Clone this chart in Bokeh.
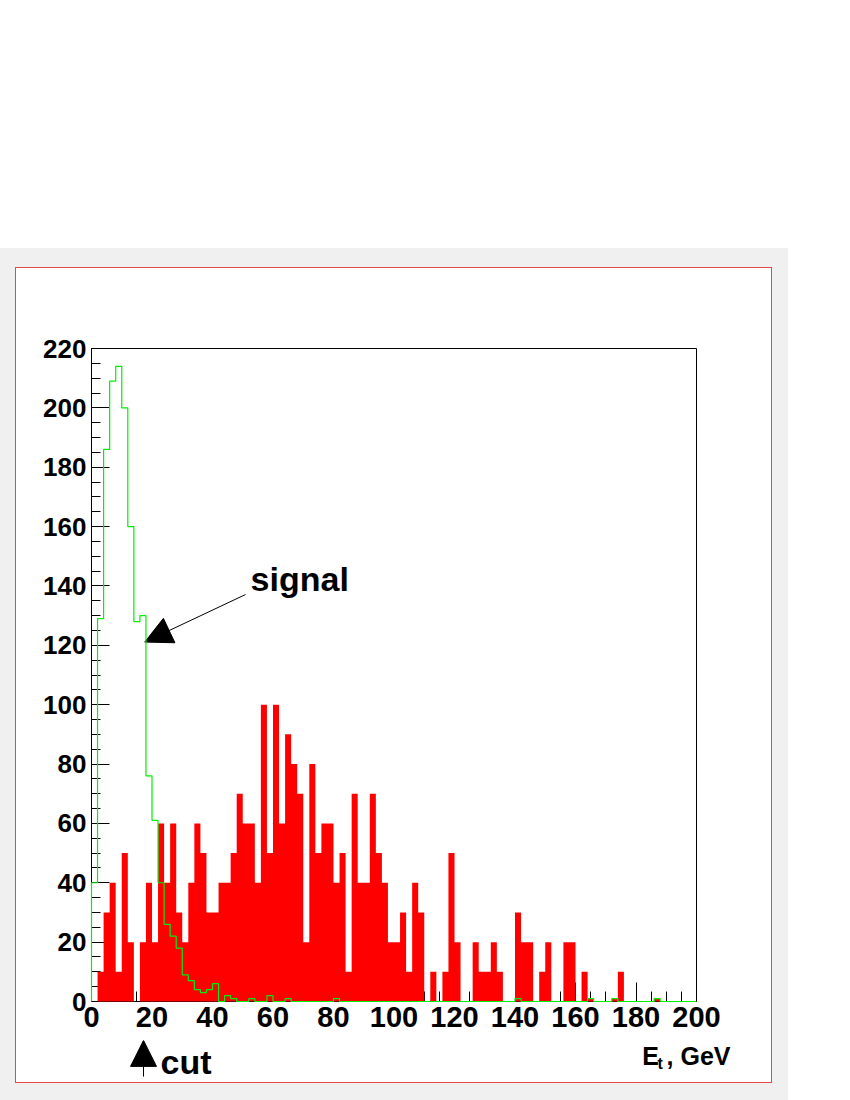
import numpy as np
from bokeh.plotting import figure
from bokeh.models import Range1d, SingleIntervalTicker, Label, Arrow, NormalHead, Column
from bokeh.embed import file_html
from bokeh.resources import INLINE

# ---- data (bin width 2 GeV, 0..200 GeV) ----
bin_width = 2
n_bins = 100
background = [0, 10, 30, 40, 10, 50, 20, 0, 20, 40,
              20, 60, 40, 60, 30, 20, 40, 60, 50, 30,
              30, 40, 40, 50, 70, 60, 60, 40, 100, 50,
              100, 60, 90, 80, 70, 20, 80, 50, 60, 60,
              40, 50, 10, 70, 40, 40, 70, 50, 40, 20,
              20, 30, 10, 40, 30, 0, 10, 0, 10, 50,
              20, 0, 0, 20, 10, 10, 20, 10, 0, 0,
              30, 20, 20, 0, 10, 20, 0, 0, 20, 20,
              0, 10, 1, 0, 0, 0, 1, 10, 0, 0,
              0, 0, 0, 1, 0, 0, 0, 0, 0, 0]
signal = [40, 129, 186, 209, 214, 200, 160, 128, 130, 76,
          61, 40, 26, 22, 18, 9, 7, 4, 3, 4,
          6, 0, 2, 1, 0, 0, 1, 0, 0, 2,
          0, 0, 1, 0, 0, 0, 0, 0, 0, 0,
          1, 0, 0, 0, 0, 0, 0, 0, 0, 0,
          0, 0, 0, 0, 0, 0, 0, 0, 0, 0,
          0, 0, 0, 0, 0, 0, 0, 0, 0, 0,
          1, 0, 0, 0, 0, 0, 0, 0, 0, 0,
          0, 0, 1, 0, 0, 0, 1, 0, 0, 0,
          0, 0, 0, 1, 0, 0, 0, 0, 0, 0]
x_range = (0, 200)
y_range = (0, 220)
tick_interval = 20
cut_value = 17.2
signal_arrow = dict(x_start=50.9, y_start=137.1, x_end=17.6, y_end=121.1)

edges = np.arange(n_bins + 1) * bin_width

FONT = "Liberation Sans"

# ---- layout geometry (pixels) ----
FRAME_W, FRAME_H = 605, 653
BORDER_L, BORDER_R, BORDER_T, BORDER_B = 75, 75, 80, 39
INNER_W = BORDER_L + FRAME_W + BORDER_R
LOWER_H = 42

p = figure(frame_width=FRAME_W, frame_height=FRAME_H,
           min_border_left=BORDER_L, min_border_right=BORDER_R,
           min_border_top=BORDER_T, min_border_bottom=BORDER_B,
           x_range=Range1d(*x_range), y_range=Range1d(*y_range),
           output_backend="svg", toolbar_location=None,
           background_fill_color="white", border_fill_color="white")
p.frame_align = False
p.grid.visible = False
p.outline_line_color = "black"
p.outline_line_width = 1

p.xaxis.ticker = SingleIntervalTicker(interval=tick_interval, num_minor_ticks=4)
p.yaxis.ticker = SingleIntervalTicker(interval=tick_interval, num_minor_ticks=4)
for ax in (p.xaxis[0], p.yaxis[0]):
    ax.axis_line_color = "black"
    ax.major_tick_line_color = "black"
    ax.minor_tick_line_color = "black"
    ax.major_tick_out = 0
    ax.minor_tick_out = 0
    ax.major_label_text_font = FONT
    ax.major_label_text_font_style = "bold"
    ax.major_label_text_color = "black"
p.yaxis.major_tick_in = 18
p.yaxis.minor_tick_in = 9
p.xaxis.major_tick_in = 19
p.xaxis.minor_tick_in = 10
p.yaxis.major_label_text_font_size = "26px"
p.xaxis.major_label_text_font_size = "29px"
p.yaxis.major_label_standoff = 5
p.xaxis.major_label_standoff = 5

# background histogram (filled red), drawn above the axis ticks
bg = p.varea_step(x=edges, y1=0, y2=background + [background[-1]],
                  step_mode="after", fill_color="#ff0000")
bg.level = "overlay"

# signal histogram (green outline)
sx = [edges[0]]
sy = [0]
for i, v in enumerate(signal):
    sx += [edges[i], edges[i + 1]]
    sy += [v, v]
sx.append(edges[-1])
sy.append(0)
sg = p.line(sx, sy, line_color="#00f000", line_width=1.2)
sg.level = "overlay"

# signal annotation
p.add_layout(Arrow(end=NormalHead(size=27, fill_color="black", line_color="black"),
                   line_color="black", line_width=1, **signal_arrow))
p.add_layout(Label(x=52.6, y=142.2, text="signal", text_font=FONT,
                   text_font_style="bold", text_font_size="34px",
                   text_color="black", text_baseline="alphabetic"))

# ---- lower strip (same GeV scale) for the cut marker and axis title ----
px_per_x = FRAME_W / (x_range[1] - x_range[0])
px_per_y = FRAME_H / (y_range[1] - y_range[0])
lx0 = x_range[0] - BORDER_L / px_per_x
lx1 = lx0 + INNER_W / px_per_x
ly1 = y_range[0] - BORDER_B / px_per_y
ly0 = ly1 - LOWER_H / px_per_y

q = figure(width=INNER_W, height=LOWER_H, min_border=0,
           min_border_left=0, min_border_right=0,
           min_border_top=0, min_border_bottom=0,
           x_range=Range1d(lx0, lx1), y_range=Range1d(ly0, ly1),
           x_axis_location=None, y_axis_location=None,
           output_backend="svg", toolbar_location=None,
           background_fill_color="white", border_fill_color="white",
           outline_line_color=None)
q.frame_align = False
q.grid.visible = False

q.add_layout(Arrow(end=NormalHead(size=26, fill_color="black", line_color="black"),
                   line_color="black", line_width=1,
                   x_start=cut_value, y_start=-25.3, x_end=cut_value, y_end=-13.1))
q.add_layout(Label(x=22.8, y=-20.4, text="cut", text_font=FONT,
                   text_font_style="bold", text_font_size="34px",
                   text_color="black", text_baseline="alphabetic"))
q.add_layout(Label(x=182.1, y=-18.5, text="E", text_font=FONT,
                   text_font_style="bold", text_font_size="25px",
                   text_color="black", text_baseline="alphabetic"))
q.add_layout(Label(x=187.1, y=-20.8, text="t", text_font=FONT,
                   text_font_style="bold", text_font_size="16px",
                   text_color="black", text_baseline="alphabetic"))
q.add_layout(Label(x=190.1, y=-18.5, text=", GeV", text_font=FONT,
                   text_font_style="bold", text_font_size="25px",
                   text_color="black", text_baseline="alphabetic"))

panel = Column(p, q, margin=(1, 1, 1, 1),
               styles={"background-color": "white"})
framed = Column(panel, margin=(19, 16, 17, 15),
                styles={"background-color": "#e64848"})
page = Column(framed, margin=(248, 0, 0, 0), width=788,
              styles={"background-color": "#f0f0f0"})

open("out.html", "w").write(file_html(page, INLINE))
